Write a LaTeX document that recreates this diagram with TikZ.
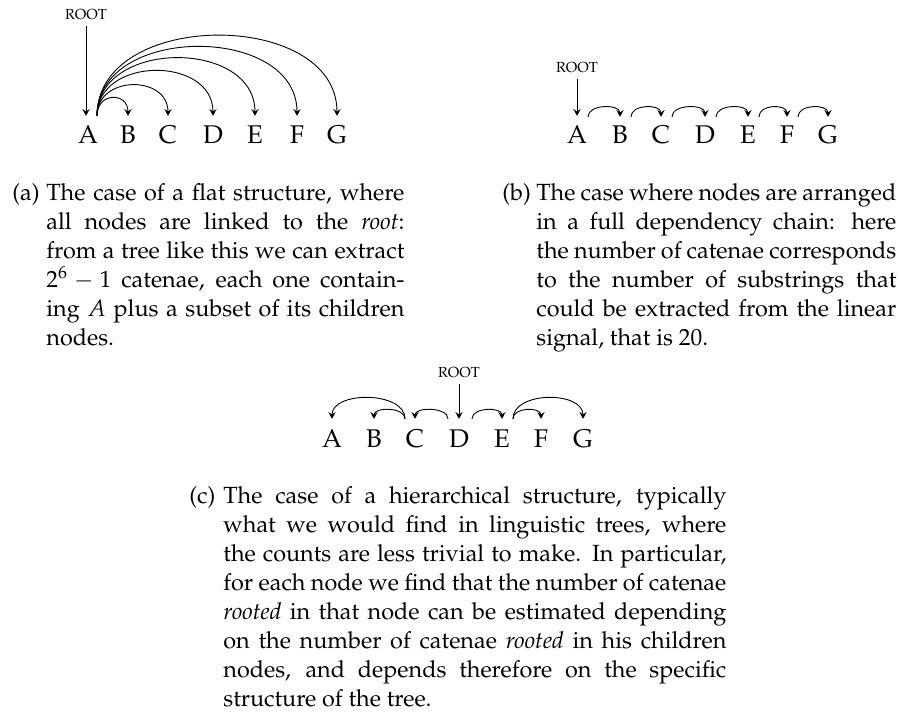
\documentclass[tikz,border=0pt]{standalone}
\usepackage[T1]{fontenc}
\usepackage{mathpazo}
\usetikzlibrary{arrows.meta}
\newlength\hangw
\setlength\hangw{17pt}
\newcommand\capfirst[2]{\hbox to\hsize{\makebox[\hangw][l]{#1}#2}}
\newcommand\capline[1]{\hbox to\hsize{\hskip\hangw\relax #1}}
\newcommand\caplast[1]{\hbox{\hskip\hangw\relax #1}}
\tikzset{
  word/.style={inner sep=0pt, anchor=base, font=\fontsize{12.8}{15}\selectfont},
  rootlbl/.style={inner sep=0pt, font=\fontsize{7.3}{8}\selectfont},
  dep/.style={line width=0.45pt, -{Stealth[length=3.4pt,width=3.6pt,inset=1.2pt]}},
  capbox/.style={inner sep=0pt, anchor=base west, font=\fontsize{11.7}{14.5}\selectfont},
}
\begin{document}
\begin{tikzpicture}[x=0.5pt,y=-0.5pt]
\useasboundingbox (0,0) rectangle (907,713);
% ---------- tree (a): flat structure
\node[rootlbl] (aR) at (86,15) {ROOT};
\foreach \n/\x in {A/88,B/128,C/168,D/213,E/255,F/297,G/337}
  \node[word] (a\n) at (\x,143) {\n};
\draw[dep] ([yshift=-2.5pt]aR.south) -- ([xshift=-1pt,yshift=4.5pt]aA.north);
\foreach \n/\h in {B/24,C/41,D/60,E/77,F/92,G/107}
  \draw[dep] ([xshift=4.5pt,yshift=4.5pt]aA.north) .. controls +(0,-\h) and +(0,-\h) .. ([yshift=4.5pt]a\n.north);
% ---------- tree (b): chain
\node[rootlbl] (bR) at (577,68) {ROOT};
\foreach \n/\x in {A/577,B/620,C/661,D/705,E/748,F/787,G/828}
  \node[word] (b\n) at (\x,143) {\n};
\draw[dep] ([yshift=-2.5pt]bR.south) -- ([yshift=4.5pt]bA.north);
\foreach \s/\t in {A/B,B/C,C/D,D/E,E/F,F/G}
  \draw[dep] ([xshift=5.5pt,yshift=4pt]b\s.north) .. controls +(0,-13) and +(0,-13) .. ([yshift=4pt]b\t.north);
% ---------- tree (c): hierarchical
\node[rootlbl] (cR) at (459,373) {ROOT};
\foreach \n/\x in {A/332,B/374,C/415,D/459,E/502,F/541,G/583}
  \node[word] (c\n) at (\x,447) {\n};
\draw[dep] ([yshift=-2.5pt]cR.south) -- ([yshift=5pt]cD.north);
\draw[dep] ([xshift=-5pt,yshift=5pt]cC.north) .. controls +(0,-28) and +(0,-28) .. ([yshift=5pt]cA.north);
\draw[dep] ([xshift=-5pt,yshift=5pt]cC.north) .. controls +(0,-12) and +(0,-12) .. ([yshift=5pt]cB.north);
\draw[dep] ([xshift=-5.5pt,yshift=5pt]cD.north) .. controls +(0,-12) and +(0,-12) .. ([yshift=5pt]cC.north);
\draw[dep] ([xshift=6.5pt,yshift=5pt]cD.north) .. controls +(0,-12) and +(0,-12) .. ([yshift=5pt]cE.north);
\draw[dep] ([xshift=5.5pt,yshift=5pt]cE.north) .. controls +(0,-12) and +(0,-12) .. ([yshift=5pt]cF.north);
\draw[dep] ([xshift=5.5pt,yshift=5pt]cE.north) .. controls +(0,-28) and +(0,-28) .. ([yshift=5pt]cG.north);
% ---------- captions
\node[capbox] (capa) at (12,200) {\vtop{\hsize=196pt\baselineskip=14.5pt
  \capfirst{(a)}{The case of a flat structure, where}
  \capline{all nodes are linked to the \emph{root}:}
  \capline{from a tree like this we can extract}
  \capline{$2^6-1$ catenae, each one contain-}
  \capline{ing $A$ plus a subset of its children}
  \caplast{nodes.}}};
\node[capbox] (capb) at (502,200) {\vtop{\hsize=197pt\baselineskip=14.5pt
  \capfirst{(b)}{The case where nodes are arranged}
  \capline{in a full dependency chain: here}
  \capline{the number of catenae corresponds}
  \capline{to the number of substrings that}
  \capline{could be extracted from the linear}
  \caplast{signal, that is 20.}}};
\node[capbox] (capc) at (189,503) {\vtop{\hsize=268.5pt\baselineskip=14.5pt
  \capfirst{(c)}{The case of a hierarchical structure, typically}
  \capline{what we would find in linguistic trees, where}
  \capline{the counts are less trivial to make. In particular,}
  \capline{for each node we find that the number of catenae}
  \capline{\emph{rooted} in that node can be estimated depending}
  \capline{on the number of catenae \emph{rooted} in his children}
  \capline{nodes, and depends therefore on the specific}
  \caplast{structure of the tree.}}};
\end{tikzpicture}
\end{document}
